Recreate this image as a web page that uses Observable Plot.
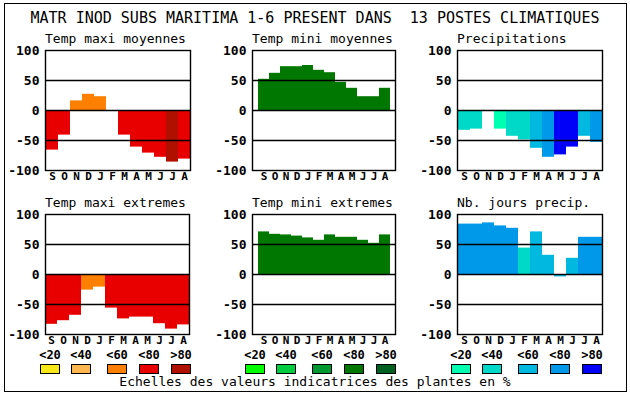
<!DOCTYPE html>
<html>
<head>
<meta charset="utf-8">
<script src="https://cdn.jsdelivr.net/npm/d3@7"></script>
<script src="https://cdn.jsdelivr.net/npm/@observablehq/plot@0.6"></script>
<style>
  html, body { margin: 0; padding: 0; background: #fff; }
  #root { position: relative; width: 630px; height: 394px; overflow: hidden; font-family: "DejaVu Sans Mono", monospace; color: #000; }
  .abs { position: absolute; white-space: pre; }
  .border { position: absolute; left: 4px; top: 3px; width: 621px; height: 387px; border: 1px solid #000; }
</style>
</head>
<body>
<div id="root"><div class="border"></div></div>
<script>
const mainTitle = "MATR INOD SUBS MARITIMA 1-6 PRESENT DANS  13 POSTES CLIMATIQUES";
const months = ["S","O","N","D","J","F","M","A","M","J","J","A"];
const yTicks = [-100, -50, 0, 50, 100];

// Palettes (scale classes <20, <40, <60, <80, >80)
const warmColors = ["#f8e818", "#ffb850", "#ff8000", "#e80000", "#b01000"];
const greenColors = ["#00ff00", "#00cc40", "#009830", "#007800", "#006020"];
const blueColors = ["#00ffb0", "#00d8c8", "#00b8e0", "#0098e8", "#0000f8"];
const classLabels = ["<20", "<40", "<60", "<80", ">80"];
const legendTitle = "Echelles des valeurs indicatrices des plantes en %";

// Panel titles
const titles = ["Temp maxi moyennes", "Temp mini moyennes", "Precipitations",
                "Temp maxi extremes", "Temp mini extremes", "Nb. jours precip."];

// Values (S..A)
const tmaxMoy = [-66, -41, 16, 27, 23, 0, -41, -61, -71, -78, -86, -81];
const tmaxMoyCls = [3, 3, 2, 2, 2, 3, 3, 3, 3, 3, 4, 3];
const tminMoy = [52, 62, 73, 73, 75, 67, 63, 47, 37, 23, 23, 37];
const tminMoyCls = [3, 3, 3, 3, 3, 3, 3, 3, 3, 3, 3, 3];
const precip = [-33, -31, 0, -31, -43, -49, -63, -78, -74, -61, -43, -53];
const precipCls = [1, 1, 1, 0, 1, 1, 2, 3, 4, 4, 2, 3];
const tmaxExt = [-83, -77, -68, -26, -21, -56, -74, -71, -71, -82, -91, -84];
const tmaxExtCls = [3, 3, 3, 2, 2, 3, 3, 3, 3, 3, 3, 3];
const tminExt = [71, 67, 66, 64, 61, 57, 66, 62, 62, 57, 52, 66];
const tminExtCls = [3, 3, 3, 3, 3, 3, 3, 3, 3, 3, 3, 3];
const nbJours = [84, 84, 86, 81, 77, 44, 71, 32, -4, 27, 62, 62];
const nbJoursCls = [3, 3, 3, 3, 3, 1, 2, 2, 2, 2, 3, 3];

const root = document.getElementById("root");

function addText(txt, left, top, css) {
  const d = document.createElement("div");
  d.className = "abs";
  d.textContent = txt;
  d.style.left = left + "px";
  d.style.top = top + "px";
  Object.assign(d.style, css || {});
  root.appendChild(d);
  return d;
}

// main title
addText(mainTitle, 0, 9, {width: "630px", textAlign: "center", fontSize: "15px", left: "0px"});

const panels = [
  {vals: tmaxMoy, cls: tmaxMoyCls, pal: warmColors, fx: 45, fy: 50, w: 145},
  {vals: tminMoy, cls: tminMoyCls, pal: greenColors, fx: 252, fy: 50, w: 143},
  {vals: precip, cls: precipCls, pal: blueColors, fx: 457, fy: 50, w: 145},
  {vals: tmaxExt, cls: tmaxExtCls, pal: warmColors, fx: 45, fy: 214, w: 144},
  {vals: tminExt, cls: tminExtCls, pal: greenColors, fx: 252, fy: 214, w: 143},
  {vals: nbJours, cls: nbJoursCls, pal: blueColors, fx: 457, fy: 214, w: 145}
];

panels.forEach((p, k) => {
  const data = p.vals.map((v, i) => ({i, v, c: p.pal[p.cls[i]]}));
  const mL = 45, mR = 6, mT = 10, mB = 16, ph = 120;
  const chart = Plot.plot({
    width: mL + p.w + mR,
    height: mT + ph + mB,
    marginLeft: mL, marginRight: mR, marginTop: mT, marginBottom: mB,
    style: {fontFamily: "DejaVu Sans Mono", background: "transparent", overflow: "visible"},
    x: {type: "band", domain: d3.range(12), padding: 0, axis: null},
    y: {domain: [-100, 100], axis: null},
    marks: [
      Plot.barY(data, {x: "i", y: "v", fill: "c"}),
      Plot.ruleY([-50, 0, 50], {stroke: "#000", strokeWidth: 1.4}),
      Plot.frame({stroke: "#000", strokeWidth: 1.4}),
      Plot.axisY({ticks: yTicks, tickSize: 0, tickPadding: 6, label: null, fontSize: 13, fontWeight: "bold", tickFormat: d => String(d)}),
      Plot.axisX({tickSize: 0, tickPadding: 2, label: null, fontSize: 11, fontWeight: "bold", tickFormat: i => months[i]})
    ]
  });
  chart.style.position = "absolute";
  chart.style.left = (p.fx - mL) + "px";
  chart.style.top = (p.fy - mT) + "px";
  root.appendChild(chart);
  addText(titles[k], p.fx, p.fy - 19, {fontSize: "13px"});
});

// Legend
const groups = [{x: 40, pal: warmColors}, {x: 245, pal: greenColors}, {x: 451, pal: blueColors}];
const offs = [0, 31, 67, 99, 131];
groups.forEach(g => {
  g.pal.forEach((col, j) => {
    const x = g.x + offs[j];
    addText(classLabels[j], x - 3, 349, {fontSize: "12px", lineHeight: "12px", fontWeight: "bold", width: "26px", textAlign: "center"});
    const s = document.createElement("div");
    s.style.position = "absolute";
    s.style.left = x + "px";
    s.style.top = "364px";
    s.style.width = "18px";
    s.style.height = "8px";
    s.style.background = col;
    s.style.border = "1px solid #000";
    root.appendChild(s);
  });
});
addText(legendTitle, 0, 374, {width: "630px", textAlign: "center", fontSize: "13px", lineHeight: "15px", left: "0px"});
</script>
</body>
</html>
